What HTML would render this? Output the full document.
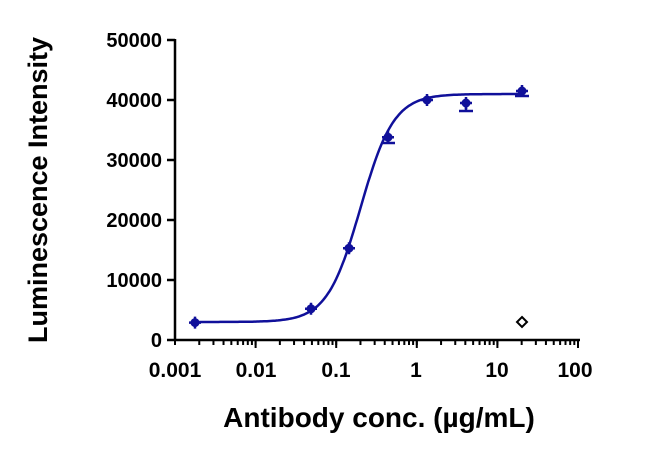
<!DOCTYPE html><html><head><style>body{margin:0;background:#fff}svg{font-family:"Liberation Sans",Arial,sans-serif;font-weight:bold}</style></head><body>
<svg id="s" width="650" height="455" viewBox="0 0 650 455">
<g stroke="#000" stroke-width="2.5" fill="none">
<line x1="175" y1="39" x2="175" y2="341"/><line x1="174" y1="340" x2="580" y2="340"/>
<line x1="167" y1="40" x2="175" y2="40"/><line x1="167" y1="100" x2="175" y2="100"/><line x1="167" y1="160" x2="175" y2="160"/><line x1="167" y1="220" x2="175" y2="220"/><line x1="167" y1="280" x2="175" y2="280"/><line x1="167" y1="340" x2="175" y2="340"/>
</g>
<g id="ticks" stroke="#000" stroke-width="2"></g>
<g font-size="20" text-anchor="end"><text x="162" y="47">50000</text><text x="162" y="107">40000</text><text x="162" y="167">30000</text><text x="162" y="227">20000</text><text x="162" y="287">10000</text><text x="162" y="347">0</text></g>
<g font-size="21" text-anchor="middle"><text x="175" y="377">0.001</text><text x="256" y="377">0.01</text><text x="336" y="377">0.1</text><text x="416" y="377">1</text><text x="497" y="377">10</text><text x="575" y="377">100</text></g>
<text x="379" y="427" font-size="28" text-anchor="middle">Antibody conc. (µg/mL)</text>
<text transform="translate(47,190) rotate(-90)" font-size="27" text-anchor="middle">Luminescence Intensity</text>
<path id="c" stroke="#10109a" stroke-width="2.5" fill="none"/>
<g stroke="#10109a" stroke-width="2.5"><line x1="466" y1="103" x2="466" y2="111"/><line x1="459" y1="111" x2="473" y2="111"/><line x1="515" y1="96" x2="529" y2="96"/><line x1="382" y1="143" x2="395" y2="143"/></g>
<g id="pts" fill="#10109a"></g>
<path d="M522 317 L527 322 L522 327 L517 322 Z" fill="#fff" stroke="#000" stroke-width="2"/>
</svg>
<script>
var X=l=>175+80.6*(Math.log10(l)+3),Y=v=>340-v*0.006;
var t='';for(var d=-3;d<2;d++)for(var k=1;k<=10;k++){var x=X(k*Math.pow(10,d));t+='<line x1="'+x+'" y1="340" x2="'+x+'" y2="'+(k==10?348:345)+'"/>';}
document.getElementById('ticks').innerHTML=t;
var p='';for(var i=0;i<=200;i++){var lx=-2.7+i*(1.3+2.7)/200,c=Math.pow(10,lx),v=3000+38000/(1+Math.pow(0.2/c,2.1));p+=(i?'L':'M')+X(c).toFixed(1)+' '+Y(v).toFixed(1);}
document.getElementById('c').setAttribute('d',p);
var pts=[[195,2900],[311,5200],[349,15300],[388,33800],[427,40000],[466,39500],[522,41500]],s='';
pts.forEach(q=>{var y=Y(q[1]);s+='<circle cx="'+q[0]+'" cy="'+y+'" r="4.5"/><path d="M'+(q[0]-6)+' '+y+'h12M'+q[0]+' '+(y-6)+'v12" stroke="#10109a" stroke-width="2.5"/>';});
document.getElementById('pts').innerHTML=s;
</script></body></html>
